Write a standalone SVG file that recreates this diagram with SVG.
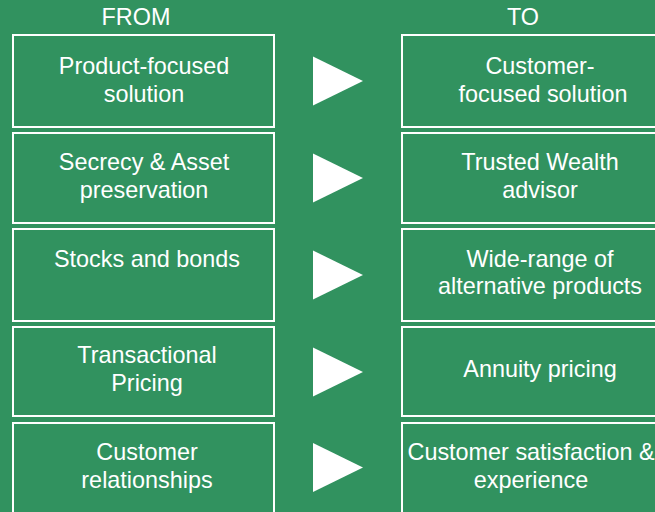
<svg xmlns="http://www.w3.org/2000/svg" width="655" height="512" viewBox="0 0 655 512">
  <style>
    .box { fill: none; stroke: #ffffff; stroke-width: 2; }
    .lbl { font-family: "Liberation Sans", Arial, sans-serif; font-size: 23.4px; fill: #ffffff; text-anchor: middle; }
    .arrow { fill: #ffffff; }
  </style>
  <rect width="655" height="512" fill="#31925F"/>

  <!-- column headings -->
  <g id="headings">
    <text class="lbl" x="136" y="25">FROM</text>
    <text class="lbl" x="523" y="25">TO</text>
  </g>

  <!-- left column: current state -->
  <g id="from-1">
    <rect class="box" x="13" y="35" width="261" height="92"/>
    <text class="lbl" x="144" y="74">Product-focused</text>
    <text class="lbl" x="144" y="102">solution</text>
  </g>
  <g id="from-2">
    <rect class="box" x="13" y="133" width="261" height="90"/>
    <text class="lbl" x="144" y="170">Secrecy &amp; Asset</text>
    <text class="lbl" x="144" y="198">preservation</text>
  </g>
  <g id="from-3">
    <rect class="box" x="13" y="229" width="261" height="92"/>
    <text class="lbl" x="147" y="267">Stocks and bonds</text>
  </g>
  <g id="from-4">
    <rect class="box" x="13" y="327" width="261" height="89"/>
    <text class="lbl" x="147" y="363">Transactional</text>
    <text class="lbl" x="147" y="391">Pricing</text>
  </g>
  <g id="from-5">
    <rect class="box" x="13" y="423" width="261" height="100"/>
    <text class="lbl" x="147" y="460">Customer</text>
    <text class="lbl" x="147" y="488">relationships</text>
  </g>

  <!-- right column: target state -->
  <g id="to-1">
    <rect class="box" x="402" y="35" width="280" height="92"/>
    <text class="lbl" x="540" y="74">Customer-</text>
    <text class="lbl" x="543" y="102">focused solution</text>
  </g>
  <g id="to-2">
    <rect class="box" x="402" y="133" width="280" height="90"/>
    <text class="lbl" x="540" y="170">Trusted Wealth</text>
    <text class="lbl" x="540" y="198">advisor</text>
  </g>
  <g id="to-3">
    <rect class="box" x="402" y="229" width="280" height="92"/>
    <text class="lbl" x="540" y="267">Wide-range of</text>
    <text class="lbl" x="540" y="294">alternative products</text>
  </g>
  <g id="to-4">
    <rect class="box" x="402" y="327" width="280" height="89"/>
    <text class="lbl" x="540" y="377">Annuity pricing</text>
  </g>
  <g id="to-5">
    <rect class="box" x="402" y="423" width="280" height="100"/>
    <text class="lbl" x="531" y="460">Customer satisfaction &amp;</text>
    <text class="lbl" x="531" y="488">experience</text>
  </g>

  <!-- connectors: transition arrows -->
  <g id="connectors">
    <polygon class="arrow" points="313,56.5 363,81 313,105.5"/>
    <polygon class="arrow" points="313,153.5 363,178 313,202.5"/>
    <polygon class="arrow" points="313,250.5 363,275 313,299.5"/>
    <polygon class="arrow" points="313,347.5 363,372 313,396.5"/>
    <polygon class="arrow" points="313,443 363,467.5 313,492"/>
  </g>
</svg>
